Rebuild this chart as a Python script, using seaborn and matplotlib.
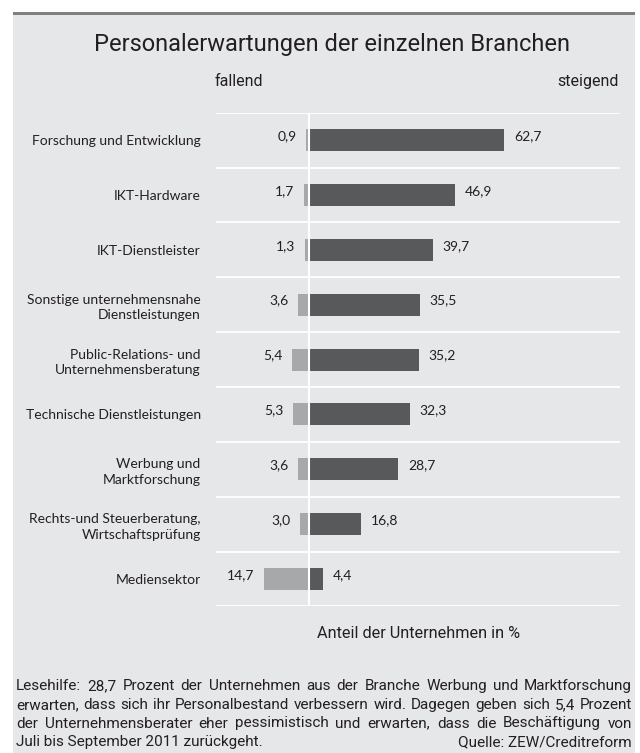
import matplotlib
matplotlib.use("Agg")
import matplotlib.pyplot as plt
import seaborn as sns
import pandas as pd
from matplotlib.patches import Rectangle

# Daten
branchen = [
    "Forschung und Entwicklung",
    "IKT-Hardware",
    "IKT-Dienstleister",
    "Sonstige unternehmensnahe\nDienstleistungen",
    "Public-Relations- und\nUnternehmensberatung",
    "Technische Dienstleistungen",
    "Werbung und\nMarktforschung",
    "Rechts-und Steuerberatung,\nWirtschaftsprüfung",
    "Mediensektor",
]
fallend = [0.9, 1.7, 1.3, 3.6, 5.4, 5.3, 3.6, 3.0, 14.7]
steigend = [62.7, 46.9, 39.7, 35.5, 35.2, 32.3, 28.7, 16.8, 4.4]

titel = "Personalerwartungen der einzelnen Branchen"
achse = "Anteil der Unternehmen in %"
lesehilfe = [
    "Lesehilfe: 28,7 Prozent der Unternehmen aus der Branche Werbung und Marktforschung",
    "erwarten, dass sich ihr Personalbestand verbessern wird. Dagegen geben sich 5,4 Prozent",
    "der Unternehmensberater eher pessimistisch und erwarten, dass die Beschäftigung von",
    "Juli bis September 2011 zurückgeht.",
]
quelle = "Quelle: ZEW/Creditreform"

BG = "#e6e7e8"
DARK = "#58595b"
LIGHT = "#a7a8aa"
TXT = "#231f20"
W, H = 640, 753

sns.set_style("white")
plt.rcParams["font.family"] = ["Lato", "DejaVu Sans"]
plt.rcParams["text.color"] = TXT


def fx(x):
    return x / W


def fy(y):
    return 1 - y / H


fig = plt.figure(figsize=(W / 100, H / 100), dpi=100)
fig.patch.set_facecolor("white")
fig.patches.append(Rectangle((fx(13), 0), fx(635 - 13), 1 - 15 / H, transform=fig.transFigure,
                             facecolor=BG, edgecolor="none", zorder=-2))
fig.patches.append(Rectangle((fx(13), fy(15)), fx(635 - 13), 3 / H, transform=fig.transFigure,
                             facecolor="#808080", edgecolor="none", zorder=-2))

ax = fig.add_axes([fx(216), fy(606.4), fx(620 - 216), (606.4 - 112.7) / H])
ax.set_facecolor("none")

df = pd.DataFrame({"Branche": branchen,
                   "fallend": [-v for v in fallend],
                   "steigend": steigend})
sns.barplot(data=df, y="Branche", x="fallend", color=LIGHT, saturation=1,
            width=0.4, errorbar=None, linewidth=0, ax=ax, zorder=2)
sns.barplot(data=df, y="Branche", x="steigend", color=DARK, saturation=1,
            width=0.4, errorbar=None, linewidth=0, ax=ax, zorder=2)

fmt = lambda v: f"{v:.1f}".replace(".", ",")
t1 = ax.bar_label(ax.containers[0], labels=[fmt(v) for v in fallend], padding=7, fontsize=10, color=TXT)
t2 = ax.bar_label(ax.containers[1], labels=[fmt(v) for v in steigend], padding=7, fontsize=10, color=TXT)
for t in list(t1) + list(t2):
    t.xyann = (t.xyann[0], 3)

for i in range(len(branchen) + 1):
    ax.axhline(i - 0.5, color="white", lw=1.3, zorder=1)
ax.axvline(0, color="white", lw=1.5, zorder=3)

ax.set_xlim(-30, 100)
ax.set_ylim(len(branchen) - 0.5, -0.5)
ax.set_xticks([])
ax.set_xlabel("")
ax.set_ylabel("")
sns.despine(ax=ax, left=True, bottom=True)
ax.tick_params(axis="y", length=0, pad=11, labelsize=10, labelcolor=TXT)
for t in ax.get_yticklabels():
    t.set_linespacing(1.35)

# Texte
sans = ["Roboto", "DejaVu Sans"]
fig.text(fx(332), fy(51), titel, ha="center", va="baseline", fontsize=17, family=sans)
fig.text(fx(215), fy(86), "fallend", ha="left", va="baseline", fontsize=11.5, family=sans)
fig.text(fx(619), fy(86), "steigend", ha="right", va="baseline", fontsize=11.5, family=sans)
fig.text(fx(419), fy(634), achse, ha="center", va="center", fontsize=11.7, family=sans)

# Lesehilfe im Blocksatz
renderer = fig.canvas.get_renderer()
x0, x1 = 16, 632
base = [690, 709, 727.5, 746]
fs = 11
for line, y in zip(lesehilfe[:3], base[:3]):
    words = line.split()
    texts = [fig.text(0, fy(y), w, ha="left", va="baseline", fontsize=fs, family=sans) for w in words]
    widths = [t.get_window_extent(renderer).width for t in texts]
    gap = (x1 - x0 - sum(widths)) / (len(words) - 1)
    x = x0
    for t, w in zip(texts, widths):
        t.set_x(fx(x))
        x += w + gap
fig.text(fx(x0), fy(base[3]), lesehilfe[3], ha="left", va="baseline", fontsize=fs, family=sans)
fig.text(fx(x1), fy(base[3]), quelle, ha="right", va="baseline", fontsize=fs, family=sans)

fig.savefig("out.png", dpi=100, facecolor=fig.get_facecolor())
